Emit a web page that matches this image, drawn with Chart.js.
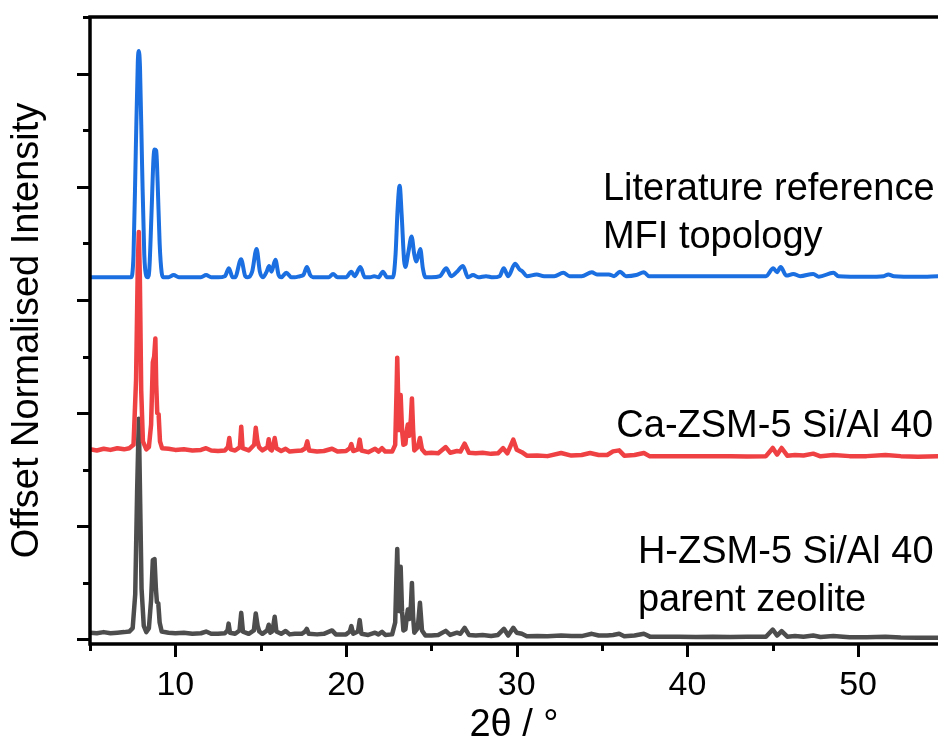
<!DOCTYPE html>
<html>
<head>
<meta charset="utf-8">
<script src="https://cdn.jsdelivr.net/npm/chart.js@4.4.1/dist/chart.umd.min.js"></script>
<style>
  html, body { margin: 0; padding: 0; background: #fff; }
  #wrap { width: 938px; height: 745px; }
</style>
</head>
<body>
<div id="wrap"><canvas id="xrdChart"></canvas></div>
<script>
// 2theta (deg), offset normalised intensity
const mfiReference = [
  [5.0,3.20],[6.0,3.20],[7.0,3.20],[7.40,3.20],[7.55,3.40],[7.68,4.30],[7.80,5.10],[7.86,5.20],[7.93,5.05],[8.05,4.20],
  [8.18,3.40],[8.30,3.21],[8.38,3.20],[8.48,3.28],[8.60,3.75],[8.72,4.25],[8.78,4.33],[8.88,4.32],[8.96,4.05],[9.08,3.50],
  [9.20,3.24],[9.30,3.20],[9.60,3.20],[9.90,3.22],[10.2,3.20],[11.0,3.20],[11.5,3.20],[11.8,3.22],[12.1,3.20],[12.5,3.20],
  [12.9,3.21],[13.14,3.28],[13.35,3.20],[13.50,3.20],[13.85,3.36],[14.10,3.21],[14.25,3.20],[14.5,3.25],[14.76,3.45],[14.95,3.25],
  [15.13,3.20],[15.35,3.25],[15.49,3.30],[15.63,3.25],[15.86,3.355],[16.05,3.22],[16.21,3.20],[16.50,3.24],[16.80,3.20],[17.0,3.20],
  [17.3,3.21],[17.50,3.22],[17.71,3.29],[17.90,3.22],[18.06,3.20],[18.5,3.20],[19.0,3.20],[19.24,3.23],[19.5,3.20],[20.0,3.20],
  [20.31,3.25],[20.50,3.21],[20.84,3.29],[21.10,3.20],[21.4,3.20],[21.65,3.21],[21.9,3.20],[22.16,3.25],[22.40,3.20],[22.75,3.20],
  [22.90,3.40],[23.02,3.80],[23.14,4.01],[23.26,3.75],[23.40,3.35],[23.47,3.29],[23.65,3.42],[23.84,3.56],[24.00,3.40],[24.12,3.34],
  [24.35,3.45],[24.50,3.28],[24.65,3.20],[25.0,3.20],[25.5,3.21],[25.87,3.28],[26.16,3.21],[26.5,3.25],[26.85,3.30],[27.14,3.20],
  [27.44,3.22],[27.75,3.20],[28.2,3.21],[28.6,3.20],[29.0,3.21],[29.24,3.28],[29.5,3.21],[29.9,3.32],[30.16,3.27],[30.35,3.25],
  [30.59,3.21],[31.17,3.225],[31.6,3.21],[32.2,3.21],[32.73,3.24],[33.1,3.21],[33.8,3.21],[34.4,3.245],[34.7,3.225],[35.4,3.225],
  [35.7,3.21],[36.05,3.25],[36.4,3.21],[37.0,3.22],[37.45,3.245],[37.75,3.21],[38.5,3.21],[39.5,3.21],[40.5,3.21],[41.5,3.21],
  [42.5,3.21],[43.5,3.21],[44.6,3.21],[45.03,3.28],[45.25,3.245],[45.46,3.29],[45.8,3.215],[46.2,3.23],[46.6,3.21],[47.37,3.23],
  [47.7,3.205],[48.55,3.24],[48.85,3.21],[50.5,3.205],[51.5,3.21],[51.77,3.225],[52.1,3.21],[53.5,3.205],[54.7,3.21]
];

const caZsm5 = [
  [5.0,1.68],[5.4,1.67],[5.8,1.685],[6.2,1.675],[6.6,1.69],[7.0,1.68],[7.3,1.69],[7.55,1.72],[7.70,2.30],[7.80,3.30],
  [7.86,3.60],[7.92,3.20],[8.00,2.20],[8.10,1.75],[8.30,1.68],[8.45,1.70],[8.58,1.90],[8.68,2.45],[8.76,2.50],[8.83,2.66],
  [8.88,2.25],[8.94,2.00],[9.02,1.99],[9.10,1.75],[9.22,1.69],[9.6,1.685],[10.0,1.675],[10.5,1.68],[11.0,1.67],[11.5,1.675],
  [11.8,1.69],[12.1,1.67],[12.5,1.665],[12.9,1.67],[13.08,1.70],[13.16,1.78],[13.24,1.68],[13.5,1.67],[13.78,1.70],[13.86,1.88],
  [13.94,1.69],[14.3,1.67],[14.62,1.72],[14.71,1.87],[14.80,1.76],[14.90,1.70],[15.1,1.67],[15.40,1.70],[15.47,1.77],[15.56,1.68],
  [15.65,1.67],[15.75,1.72],[15.82,1.78],[15.92,1.69],[16.2,1.665],[16.46,1.685],[16.7,1.66],[17.0,1.665],[17.4,1.67],[17.62,1.69],
  [17.73,1.75],[17.84,1.67],[18.3,1.66],[18.7,1.665],[19.18,1.685],[19.5,1.66],[20.0,1.665],[20.22,1.69],[20.31,1.727],[20.42,1.665],
  [20.70,1.68],[20.80,1.766],[20.90,1.67],[21.3,1.655],[21.70,1.685],[21.9,1.66],[22.11,1.69],[22.3,1.66],[22.7,1.66],[22.88,1.72],
  [22.96,2.20],[23.00,2.49],[23.06,2.10],[23.12,1.85],[23.20,2.16],[23.28,1.85],[23.36,1.72],[23.48,1.73],[23.56,1.85],[23.62,1.90],
  [23.70,1.80],[23.80,1.95],[23.86,2.13],[23.93,1.85],[24.00,1.67],[24.20,1.70],[24.33,1.78],[24.45,1.68],[24.65,1.645],[25.0,1.65],
  [25.4,1.645],[25.84,1.70],[26.1,1.65],[26.5,1.665],[26.7,1.66],[26.95,1.73],[27.2,1.65],[27.6,1.645],[28.0,1.65],[28.5,1.64],
  [28.9,1.645],[29.2,1.69],[29.45,1.645],[29.8,1.766],[30.0,1.677],[30.3,1.655],[30.59,1.624],[31.2,1.625],[31.8,1.62],[32.6,1.648],
  [33.2,1.625],[33.8,1.63],[34.3,1.648],[34.8,1.63],[35.3,1.63],[35.64,1.662],[36.0,1.671],[36.3,1.624],[36.9,1.63],[37.45,1.648],
  [37.8,1.618],[38.5,1.62],[39.5,1.618],[40.5,1.62],[41.5,1.618],[42.5,1.62],[43.5,1.617],[44.6,1.62],[45.0,1.692],[45.25,1.633],
  [45.52,1.692],[45.85,1.624],[46.3,1.63],[46.8,1.625],[47.37,1.642],[47.8,1.618],[48.55,1.63],[49.5,1.62],[50.5,1.62],[51.6,1.63],
  [52.5,1.62],[53.5,1.615],[54.7,1.618]
];

const hZsm5 = [
  [5.0,0.06],[5.4,0.055],[5.8,0.065],[6.2,0.055],[6.6,0.06],[7.0,0.065],[7.3,0.07],[7.50,0.10],[7.65,0.40],[7.76,1.30],
  [7.86,1.95],[7.94,1.20],[8.02,0.45],[8.15,0.12],[8.30,0.065],[8.45,0.10],[8.58,0.35],[8.68,0.70],[8.78,0.71],[8.86,0.45],
  [8.92,0.33],[9.00,0.32],[9.08,0.15],[9.20,0.07],[9.6,0.06],[10.0,0.055],[10.5,0.06],[11.0,0.05],[11.5,0.055],[11.8,0.07],
  [12.1,0.05],[12.5,0.05],[12.9,0.055],[13.06,0.08],[13.12,0.14],[13.20,0.06],[13.5,0.05],[13.76,0.08],[13.86,0.235],[13.96,0.07],
  [14.3,0.05],[14.60,0.08],[14.71,0.23],[14.82,0.12],[14.92,0.07],[15.1,0.05],[15.38,0.08],[15.47,0.13],[15.56,0.06],[15.66,0.07],
  [15.74,0.12],[15.82,0.20],[15.92,0.07],[16.2,0.05],[16.46,0.075],[16.7,0.045],[17.0,0.05],[17.4,0.05],[17.6,0.07],[17.7,0.094],
  [17.82,0.05],[18.3,0.045],[18.7,0.05],[19.18,0.08],[19.4,0.045],[20.0,0.045],[20.22,0.07],[20.31,0.118],[20.42,0.05],[20.70,0.07],
  [20.80,0.171],[20.90,0.05],[21.3,0.04],[21.70,0.06],[21.9,0.045],[22.11,0.068],[22.3,0.04],[22.7,0.045],[22.88,0.15],[22.96,0.60],
  [23.00,0.80],[23.06,0.45],[23.12,0.25],[23.20,0.642],[23.28,0.25],[23.36,0.08],[23.48,0.09],[23.56,0.20],[23.62,0.265],[23.70,0.18],
  [23.80,0.30],[23.86,0.50],[23.93,0.20],[24.00,0.06],[24.20,0.10],[24.33,0.324],[24.45,0.08],[24.65,0.035],[25.0,0.035],[25.4,0.04],
  [25.84,0.076],[26.1,0.04],[26.5,0.06],[26.7,0.05],[26.95,0.103],[27.2,0.04],[27.6,0.035],[28.0,0.04],[28.5,0.03],[28.9,0.04],
  [29.25,0.094],[29.5,0.035],[29.8,0.103],[30.0,0.06],[30.3,0.05],[30.59,0.028],[31.2,0.03],[31.8,0.028],[32.6,0.035],[33.2,0.03],
  [33.8,0.03],[34.4,0.05],[34.8,0.035],[35.3,0.035],[35.64,0.04],[36.0,0.05],[36.3,0.028],[36.9,0.035],[37.45,0.05],[37.8,0.025],
  [38.5,0.024],[39.5,0.024],[40.5,0.022],[41.5,0.024],[42.5,0.022],[43.5,0.024],[44.6,0.024],[45.0,0.088],[45.25,0.035],[45.52,0.074],
  [45.85,0.025],[46.3,0.03],[46.8,0.025],[47.37,0.035],[47.8,0.022],[48.55,0.03],[49.5,0.02],[50.5,0.02],[51.6,0.025],[52.5,0.018],
  [53.5,0.016],[54.7,0.015]
];

const xMajorTicks = [10, 20, 30, 40, 50];
const xMinorTicks = [5, 15, 25, 35, 45];
const yMajorTicks = [0, 1, 2, 3, 4, 5];
const yMinorTicks = [0.5, 1.5, 2.5, 3.5, 4.5, 5.5];

// text next to each pattern, anchored in data units
const patternLabels = [
  { lines: ['Literature reference', 'MFI topology'], x: 35.05, y: 3.885, align: 'left' },
  { lines: ['Ca-ZSM-5 Si/Al 40'], x: 54.39, y: 1.785, align: 'right' },
  { lines: ['H-ZSM-5 Si/Al 40', 'parent zeolite'], x: 37.1, y: 0.68, align: 'left' }
];

const FONT = 'Liberation Sans, Arial, Helvetica, sans-serif';
Chart.defaults.font.family = FONT;
Chart.defaults.color = '#000';

// axis lines (left, bottom, top) and outward tick marks of two lengths
const frameAndTicks = {
  id: 'frameAndTicks',
  afterDraw(chart) {
    const { ctx, chartArea: a, scales: { x, y } } = chart;
    ctx.save();
    ctx.strokeStyle = '#000';
    ctx.lineCap = 'butt';

    ctx.lineWidth = 3;
    xMajorTicks.concat(xMinorTicks).forEach(v => {
      const px = Math.round(x.getPixelForValue(v)) + 0.5;
      const len = xMajorTicks.includes(v) ? 13 : 7;
      ctx.beginPath(); ctx.moveTo(px, a.bottom); ctx.lineTo(px, a.bottom + len); ctx.stroke();
    });
    yMajorTicks.concat(yMinorTicks).forEach(v => {
      const py = Math.round(y.getPixelForValue(v)) + 0.5;
      const len = yMajorTicks.includes(v) ? 13 : 7;
      ctx.beginPath(); ctx.moveTo(a.left, py); ctx.lineTo(a.left - len, py); ctx.stroke();
    });

    ctx.lineWidth = 3.5;
    ctx.beginPath();
    ctx.moveTo(a.left, a.top - 1.75); ctx.lineTo(a.left, a.bottom + 1.75);
    ctx.moveTo(a.left - 1.75, a.bottom); ctx.lineTo(a.right, a.bottom);
    ctx.moveTo(a.left - 1.75, a.top); ctx.lineTo(a.right, a.top);
    ctx.stroke();
    ctx.restore();
  }
};

const seriesLabels = {
  id: 'seriesLabels',
  afterDraw(chart) {
    const { ctx, scales: { x, y } } = chart;
    ctx.save();
    ctx.fillStyle = '#000';
    ctx.font = '38px ' + FONT;
    ctx.textBaseline = 'alphabetic';
    patternLabels.forEach(lbl => {
      ctx.textAlign = lbl.align;
      const px = x.getPixelForValue(lbl.x);
      const py = y.getPixelForValue(lbl.y);
      lbl.lines.forEach((t, i) => ctx.fillText(t, px, py + i * 48));
    });
    ctx.restore();
  }
};

new Chart(document.getElementById('xrdChart'), {
  type: 'line',
  data: {
    datasets: [
      { label: 'Literature reference MFI topology', data: mfiReference, borderColor: '#1b6fe0',
        borderWidth: 4, cubicInterpolationMode: 'monotone' },
      { label: 'Ca-ZSM-5 Si/Al 40', data: caZsm5, borderColor: '#ef4043', borderWidth: 4.5 },
      { label: 'H-ZSM-5 Si/Al 40 parent zeolite', data: hZsm5, borderColor: '#4d4d4d', borderWidth: 4.5 }
    ]
  },
  options: {
    responsive: true,
    maintainAspectRatio: false,
    animation: false,
    layout: { padding: { top: 17, right: 0, bottom: 0, left: 0 } },
    elements: { point: { radius: 0 }, line: { tension: 0, borderJoinStyle: 'round' } },
    plugins: { legend: { display: false }, tooltip: { enabled: false } },
    scales: {
      x: {
        type: 'linear',
        min: 5,
        max: 54.68,
        grid: { display: false, drawTicks: false },
        border: { display: false },
        afterBuildTicks: s => { s.ticks = xMajorTicks.map(v => ({ value: v })); },
        afterFit: s => { s.height = 101; },
        ticks: { font: { size: 34 }, padding: 21, maxRotation: 0, autoSkip: false },
        title: { display: true, text: '2θ / °', font: { size: 38, lineHeight: 1.0 }, padding: { top: 0, bottom: 0 } }
      },
      y: {
        min: -0.04,
        max: 5.5,
        grid: { display: false, drawTicks: false },
        border: { display: false },
        ticks: { display: false },
        afterFit: s => { s.width = 90; },
        title: { display: true, text: 'Offset Normalised Intensity', font: { size: 38 }, padding: { top: 5, bottom: 0 } }
      }
    }
  },
  plugins: [frameAndTicks, seriesLabels]
});
</script>
</body>
</html>
